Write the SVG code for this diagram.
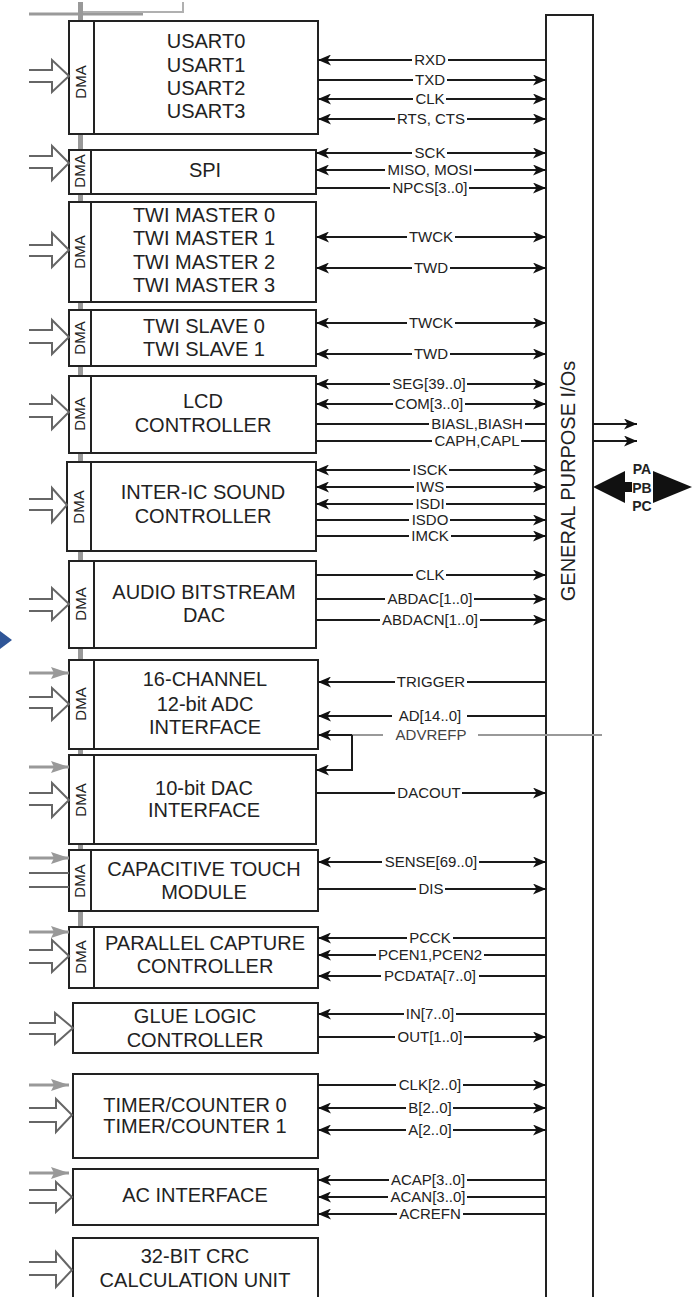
<svg xmlns="http://www.w3.org/2000/svg" width="693" height="1297" viewBox="0 0 693 1297">
<style>
.box{fill:#fff;stroke:#222;stroke-width:2}
.div{stroke:#222;stroke-width:2}
.bl{font-family:"Liberation Sans",Arial,sans-serif;font-size:20px;fill:#222;text-anchor:middle}
.dma{font-family:"Liberation Sans",Arial,sans-serif;font-size:15px;fill:#222;text-anchor:middle}
.sig{stroke:#1a1a1a;stroke-width:2;fill:none}
.sl{font-family:"Liberation Sans",Arial,sans-serif;font-size:15px;fill:#222;text-anchor:middle}
.lb{fill:#fff}
.ho{fill:none;stroke:#666;stroke-width:2}
.ga{stroke:#999;stroke-width:3;fill:none}
.gl{stroke:#999;stroke-width:2;fill:none}
.io{font-family:"Liberation Sans",Arial,sans-serif;font-size:20px;fill:#222;text-anchor:middle}
.pl{font-family:"Liberation Sans",Arial,sans-serif;font-size:14px;font-weight:bold;fill:#222;text-anchor:middle}
</style>
<defs>
<marker id="ah" viewBox="0 0 13 11" refX="13" refY="5.5" markerWidth="13" markerHeight="11" markerUnits="userSpaceOnUse" orient="auto-start-reverse"><path d="M0,0 L13,5.5 L0,11 L3.5,5.5 z" fill="#111"/></marker>
<marker id="gah" viewBox="0 0 18 12" refX="18" refY="6" markerWidth="18" markerHeight="12" markerUnits="userSpaceOnUse" orient="auto"><path d="M0,0 L18,6 L0,12 L3,6 z" fill="#999"/></marker>
</defs>
<rect width="693" height="1297" fill="#fff"/>

<g id="bus">
<line x1="29" y1="14" x2="143" y2="14" stroke="#9a9a9a" stroke-width="3"/>
<polyline points="82,12 183,12 183,2" fill="none" stroke="#b0b0b0" stroke-width="2"/>
<rect x="78" y="2" width="5" height="986" fill="#999"/>
</g>

<polygon id="blue-marker" points="0,631 12,640 0,649" fill="#2F5597"/>

<g id="gpio">
<rect class="box" x="546" y="15" width="47" height="1300"/>
<text class="io" transform="translate(568,481) rotate(-90)" x="0" y="7">GENERAL PURPOSE I/Os</text>
</g>

<g id="usart">
<rect class="box" x="69" y="21" width="249" height="113"/>
<line class="div" x1="94" y1="21" x2="94" y2="134"/>
<text class="dma" transform="translate(81,82) rotate(-90)" x="0" y="5">DMA</text>
<text class="bl" x="206" y="48">USART0</text>
<text class="bl" x="206" y="72">USART1</text>
<text class="bl" x="206" y="95">USART2</text>
<text class="bl" x="206" y="118">USART3</text>
</g>
<g id="spi">
<rect class="box" x="69" y="150" width="247" height="44"/>
<line class="div" x1="91" y1="150" x2="91" y2="194"/>
<text class="dma" transform="translate(80,171) rotate(-90)" x="0" y="5">DMA</text>
<text class="bl" x="205" y="177">SPI</text>
</g>
<g id="twi-master">
<rect class="box" x="69" y="202" width="247" height="100"/>
<line class="div" x1="91" y1="202" x2="91" y2="302"/>
<text class="dma" transform="translate(80,252) rotate(-90)" x="0" y="5">DMA</text>
<text class="bl" x="204" y="222">TWI MASTER 0</text>
<text class="bl" x="204" y="245">TWI MASTER 1</text>
<text class="bl" x="204" y="269">TWI MASTER 2</text>
<text class="bl" x="204" y="292">TWI MASTER 3</text>
</g>
<g id="twi-slave">
<rect class="box" x="69" y="310" width="247" height="56"/>
<line class="div" x1="91" y1="310" x2="91" y2="366"/>
<text class="dma" transform="translate(80,338) rotate(-90)" x="0" y="5">DMA</text>
<text class="bl" x="204" y="333">TWI SLAVE 0</text>
<text class="bl" x="204" y="356">TWI SLAVE 1</text>
</g>
<g id="lcd">
<rect class="box" x="69" y="376" width="247" height="77"/>
<line class="div" x1="91" y1="376" x2="91" y2="453"/>
<text class="dma" transform="translate(80,414) rotate(-90)" x="0" y="5">DMA</text>
<text class="bl" x="203" y="408">LCD</text>
<text class="bl" x="203" y="432">CONTROLLER</text>
</g>
<g id="i2s">
<rect class="box" x="67" y="462" width="249" height="89"/>
<line class="div" x1="91" y1="462" x2="91" y2="551"/>
<text class="dma" transform="translate(79,507) rotate(-90)" x="0" y="5">DMA</text>
<text class="bl" x="203" y="499">INTER-IC SOUND</text>
<text class="bl" x="203" y="523">CONTROLLER</text>
</g>
<g id="abdac">
<rect class="box" x="69" y="561" width="247" height="87"/>
<line class="div" x1="94" y1="561" x2="94" y2="648"/>
<text class="dma" transform="translate(81,604) rotate(-90)" x="0" y="5">DMA</text>
<text class="bl" x="204" y="599">AUDIO BITSTREAM</text>
<text class="bl" x="204" y="622">DAC</text>
</g>
<g id="adc">
<rect class="box" x="69" y="660" width="249" height="89"/>
<line class="div" x1="94" y1="660" x2="94" y2="749"/>
<text class="dma" transform="translate(81,704) rotate(-90)" x="0" y="5">DMA</text>
<text class="bl" x="205" y="686">16-CHANNEL</text>
<text class="bl" x="205" y="711">12-bit ADC</text>
<text class="bl" x="205" y="734">INTERFACE</text>
</g>
<g id="dac">
<rect class="box" x="69" y="755" width="247" height="89"/>
<line class="div" x1="94" y1="755" x2="94" y2="844"/>
<text class="dma" transform="translate(81,800) rotate(-90)" x="0" y="5">DMA</text>
<text class="bl" x="204" y="795">10-bit DAC</text>
<text class="bl" x="204" y="817">INTERFACE</text>
</g>
<g id="touch">
<rect class="box" x="69" y="850" width="249" height="61"/>
<line class="div" x1="91" y1="850" x2="91" y2="911"/>
<text class="dma" transform="translate(80,881) rotate(-90)" x="0" y="5">DMA</text>
<text class="bl" x="204" y="876">CAPACITIVE TOUCH</text>
<text class="bl" x="204" y="899">MODULE</text>
</g>
<g id="pcap">
<rect class="box" x="69" y="927" width="249" height="61"/>
<line class="div" x1="94" y1="927" x2="94" y2="988"/>
<text class="dma" transform="translate(81,957) rotate(-90)" x="0" y="5">DMA</text>
<text class="bl" x="205" y="950">PARALLEL CAPTURE</text>
<text class="bl" x="205" y="973">CONTROLLER</text>
</g>
<g id="glue">
<rect class="box" x="73" y="1003" width="245" height="50"/>
<text class="bl" x="195" y="1023">GLUE LOGIC</text>
<text class="bl" x="195" y="1047">CONTROLLER</text>
</g>
<g id="timer">
<rect class="box" x="73" y="1074" width="245" height="84"/>
<text class="bl" x="195" y="1112">TIMER/COUNTER 0</text>
<text class="bl" x="195" y="1133">TIMER/COUNTER 1</text>
</g>
<g id="ac">
<rect class="box" x="73" y="1169" width="245" height="56"/>
<text class="bl" x="195" y="1202">AC INTERFACE</text>
</g>
<g id="crc">
<rect class="box" x="73" y="1238" width="245" height="80"/>
<text class="bl" x="195" y="1263">32-BIT CRC</text>
<text class="bl" x="195" y="1287">CALCULATION UNIT</text>
</g>

<g id="inputs">
<path class="ho" d="M29,70 H52 V60 L69,76 L52,92 V82 H29"/>
<path class="ho" d="M29,156 H52 V146 L69,163 L52,180 V168 H29"/>
<path class="ho" d="M29,245 H52 V233 L69,250 L52,267 V256 H29"/>
<path class="ho" d="M29,330 H52 V320 L69,337 L52,354 V343 H29"/>
<path class="ho" d="M29,404 H52 V396 L69,412 L52,429 V417 H29"/>
<path class="ho" d="M29,499 H52 V488 L67,505 L52,522 V510 H29"/>
<path class="ho" d="M29,599 H52 V588 L69,604 L52,620 V611 H29"/>
<path class="ho" d="M29,697 H52 V688 L69,704 L52,720 V708 H29"/>
<path class="ho" d="M29,793 H52 V783 L69,800 L52,817 V805 H29"/>
<path class="ho" d="M29,950 H52 V940 L69,956 L52,972 V963 H29"/>
<path class="ho" d="M29,1023 H55 V1013 L73,1028 L55,1044 V1034 H29"/>
<path class="ho" d="M29,1108 H56 V1099 L72,1115 L56,1132 V1122 H29"/>
<path class="ho" d="M29,1190 H56 V1182 L72,1197 L56,1212 V1203 H29"/>
<path class="ho" d="M29,1262 H56 V1252 L72,1270 L56,1287 V1275 H29"/>
<line class="ho" x1="29" y1="873" x2="69" y2="873"/>
<line class="ho" x1="29" y1="887" x2="69" y2="887"/>
<line class="ga" x1="29" y1="673" x2="69" y2="673" marker-end="url(#gah)"/>
<line class="ga" x1="29" y1="767" x2="69" y2="767" marker-end="url(#gah)"/>
<line class="ga" x1="29" y1="858" x2="69" y2="858" marker-end="url(#gah)"/>
<line class="ga" x1="29" y1="932" x2="69" y2="932" marker-end="url(#gah)"/>
<line class="ga" x1="29" y1="1085" x2="69" y2="1085" marker-end="url(#gah)"/>
<line class="ga" x1="29" y1="1173" x2="69" y2="1173" marker-end="url(#gah)"/>
</g>

<g id="connectors">
<line class="sig" x1="546" y1="60" x2="318" y2="60" marker-end="url(#ah)"/><rect class="lb" x="412" y="53" width="36" height="14"/><text class="sl" x="430" y="65">RXD</text>
<line class="sig" x1="318" y1="80" x2="546" y2="80" marker-end="url(#ah)"/><rect class="lb" x="413" y="73" width="34" height="14"/><text class="sl" x="430" y="85">TXD</text>
<line class="sig" x1="318" y1="99" x2="546" y2="99" marker-start="url(#ah)" marker-end="url(#ah)"/><rect class="lb" x="413" y="92" width="33" height="14"/><text class="sl" x="430" y="104">CLK</text>
<line class="sig" x1="318" y1="119" x2="546" y2="119" marker-start="url(#ah)" marker-end="url(#ah)"/><rect class="lb" x="395" y="112" width="72" height="14"/><text class="sl" x="431" y="124">RTS, CTS</text>

<line class="sig" x1="316" y1="153" x2="546" y2="153" marker-start="url(#ah)" marker-end="url(#ah)"/><rect class="lb" x="412" y="146" width="35" height="14"/><text class="sl" x="430" y="158">SCK</text>
<line class="sig" x1="316" y1="170" x2="546" y2="170" marker-start="url(#ah)" marker-end="url(#ah)"/><rect class="lb" x="385" y="163" width="89" height="14"/><text class="sl" x="430" y="175">MISO, MOSI</text>
<line class="sig" x1="316" y1="188" x2="546" y2="188" marker-end="url(#ah)"/><rect class="lb" x="390" y="181" width="79" height="14"/><text class="sl" x="430" y="193">NPCS[3..0]</text>

<line class="sig" x1="316" y1="237" x2="546" y2="237" marker-start="url(#ah)" marker-end="url(#ah)"/><rect class="lb" x="407" y="230" width="48" height="14"/><text class="sl" x="431" y="242">TWCK</text>
<line class="sig" x1="316" y1="268" x2="546" y2="268" marker-start="url(#ah)" marker-end="url(#ah)"/><rect class="lb" x="412" y="261" width="38" height="14"/><text class="sl" x="431" y="273">TWD</text>

<line class="sig" x1="316" y1="323" x2="546" y2="323" marker-start="url(#ah)" marker-end="url(#ah)"/><rect class="lb" x="407" y="316" width="48" height="14"/><text class="sl" x="431" y="328">TWCK</text>
<line class="sig" x1="316" y1="354" x2="546" y2="354" marker-start="url(#ah)" marker-end="url(#ah)"/><rect class="lb" x="412" y="347" width="38" height="14"/><text class="sl" x="431" y="359">TWD</text>

<line class="sig" x1="316" y1="384" x2="546" y2="384" marker-start="url(#ah)" marker-end="url(#ah)"/><rect class="lb" x="390" y="377" width="77" height="14"/><text class="sl" x="429" y="389">SEG[39..0]</text>
<line class="sig" x1="316" y1="404" x2="546" y2="404" marker-start="url(#ah)" marker-end="url(#ah)"/><rect class="lb" x="393" y="397" width="72" height="14"/><text class="sl" x="429" y="409">COM[3..0]</text>
<line class="sig" x1="316" y1="424" x2="546" y2="424"/><rect class="lb" x="429" y="417" width="96" height="14"/><text class="sl" x="477" y="429">BIASL,BIASH</text>
<line class="sig" x1="316" y1="441" x2="546" y2="441"/><rect class="lb" x="432" y="434" width="89" height="14"/><text class="sl" x="477" y="446">CAPH,CAPL</text>
<line class="sig" x1="593" y1="424" x2="637" y2="424" marker-end="url(#ah)"/>
<line class="sig" x1="593" y1="441" x2="637" y2="441" marker-end="url(#ah)"/>

<line class="sig" x1="316" y1="470" x2="546" y2="470" marker-start="url(#ah)" marker-end="url(#ah)"/><rect class="lb" x="410" y="463" width="39" height="14"/><text class="sl" x="430" y="475">ISCK</text>
<line class="sig" x1="316" y1="487" x2="546" y2="487" marker-start="url(#ah)" marker-end="url(#ah)"/><rect class="lb" x="414" y="480" width="32" height="14"/><text class="sl" x="430" y="492">IWS</text>
<line class="sig" x1="546" y1="504" x2="316" y2="504" marker-end="url(#ah)"/><rect class="lb" x="413" y="497" width="33" height="14"/><text class="sl" x="430" y="509">ISDI</text>
<line class="sig" x1="316" y1="520" x2="546" y2="520" marker-end="url(#ah)"/><rect class="lb" x="409" y="513" width="41" height="14"/><text class="sl" x="430" y="525">ISDO</text>
<line class="sig" x1="316" y1="536" x2="546" y2="536" marker-end="url(#ah)"/><rect class="lb" x="409" y="529" width="42" height="14"/><text class="sl" x="430" y="541">IMCK</text>

<line class="sig" x1="316" y1="575" x2="546" y2="575" marker-end="url(#ah)"/><rect class="lb" x="413" y="568" width="33" height="14"/><text class="sl" x="430" y="580">CLK</text>
<line class="sig" x1="316" y1="599" x2="546" y2="599" marker-end="url(#ah)"/><rect class="lb" x="385" y="592" width="89" height="14"/><text class="sl" x="430" y="604">ABDAC[1..0]</text>
<line class="sig" x1="316" y1="620" x2="546" y2="620" marker-end="url(#ah)"/><rect class="lb" x="380" y="613" width="100" height="14"/><text class="sl" x="430" y="625">ABDACN[1..0]</text>

<line class="sig" x1="546" y1="682" x2="318" y2="682" marker-end="url(#ah)"/><rect class="lb" x="395" y="675" width="72" height="14"/><text class="sl" x="431" y="687">TRIGGER</text>
<line class="sig" x1="546" y1="716" x2="318" y2="716" marker-end="url(#ah)"/><rect class="lb" x="392" y="709" width="75" height="14"/><text class="sl" x="430" y="721">AD[14..0]</text>

<line class="gl" x1="352" y1="735" x2="383" y2="735"/>
<line class="sig" x1="352" y1="735" x2="318" y2="735" marker-end="url(#ah)"/>
<polyline class="sig" points="352,735 352,770 316,770" marker-end="url(#ah)"/>
<line class="gl" x1="478" y1="735" x2="602" y2="735"/>
<text x="431" y="740" font-family="Liberation Sans, Arial, sans-serif" font-size="15" fill="#444" text-anchor="middle">ADVREFP</text>

<line class="sig" x1="316" y1="793" x2="546" y2="793" marker-end="url(#ah)"/><rect class="lb" x="395" y="786" width="67" height="14"/><text class="sl" x="429" y="798">DACOUT</text>

<line class="sig" x1="318" y1="862" x2="546" y2="862" marker-start="url(#ah)" marker-end="url(#ah)"/><rect class="lb" x="382" y="855" width="97" height="14"/><text class="sl" x="431" y="867">SENSE[69..0]</text>
<line class="sig" x1="318" y1="889" x2="546" y2="889" marker-end="url(#ah)"/><rect class="lb" x="416" y="882" width="29" height="14"/><text class="sl" x="431" y="894">DIS</text>

<line class="sig" x1="546" y1="938" x2="318" y2="938" marker-end="url(#ah)"/><rect class="lb" x="407" y="931" width="46" height="14"/><text class="sl" x="430" y="943">PCCK</text>
<line class="sig" x1="546" y1="955" x2="318" y2="955" marker-end="url(#ah)"/><rect class="lb" x="376" y="948" width="108" height="14"/><text class="sl" x="430" y="960">PCEN1,PCEN2</text>
<line class="sig" x1="546" y1="976" x2="318" y2="976" marker-end="url(#ah)"/><rect class="lb" x="381" y="969" width="98" height="14"/><text class="sl" x="430" y="981">PCDATA[7..0]</text>

<line class="sig" x1="546" y1="1014" x2="318" y2="1014" marker-end="url(#ah)"/><rect class="lb" x="404" y="1007" width="52" height="14"/><text class="sl" x="430" y="1019">IN[7..0]</text>
<line class="sig" x1="318" y1="1037" x2="546" y2="1037" marker-end="url(#ah)"/><rect class="lb" x="395" y="1030" width="69" height="14"/><text class="sl" x="430" y="1042">OUT[1..0]</text>

<line class="sig" x1="318" y1="1085" x2="546" y2="1085" marker-end="url(#ah)"/><rect class="lb" x="396" y="1078" width="67" height="14"/><text class="sl" x="430" y="1090">CLK[2..0]</text>
<line class="sig" x1="318" y1="1108" x2="546" y2="1108" marker-start="url(#ah)" marker-end="url(#ah)"/><rect class="lb" x="406" y="1101" width="47" height="14"/><text class="sl" x="430" y="1113">B[2..0]</text>
<line class="sig" x1="318" y1="1130" x2="546" y2="1130" marker-start="url(#ah)" marker-end="url(#ah)"/><rect class="lb" x="406" y="1123" width="47" height="14"/><text class="sl" x="430" y="1135">A[2..0]</text>

<line class="sig" x1="546" y1="1180" x2="318" y2="1180" marker-end="url(#ah)"/><rect class="lb" x="389" y="1173" width="78" height="14"/><text class="sl" x="428" y="1185">ACAP[3..0]</text>
<line class="sig" x1="546" y1="1197" x2="318" y2="1197" marker-end="url(#ah)"/><rect class="lb" x="388" y="1190" width="79" height="14"/><text class="sl" x="428" y="1202">ACAN[3..0]</text>
<line class="sig" x1="546" y1="1214" x2="318" y2="1214" marker-end="url(#ah)"/><rect class="lb" x="397" y="1207" width="66" height="14"/><text class="sl" x="430" y="1219">ACREFN</text>
</g>

<g id="ports">
<polygon points="593,487 625,471 625,482 653,482 653,471 692,487 653,503 653,492 625,492 625,503" fill="#111"/>
<rect x="632" y="478" width="21" height="17" fill="#fff"/>
<text class="pl" x="642" y="474">PA</text>
<text class="pl" x="642" y="493">PB</text>
<text class="pl" x="642" y="511">PC</text>
</g>
</svg>
